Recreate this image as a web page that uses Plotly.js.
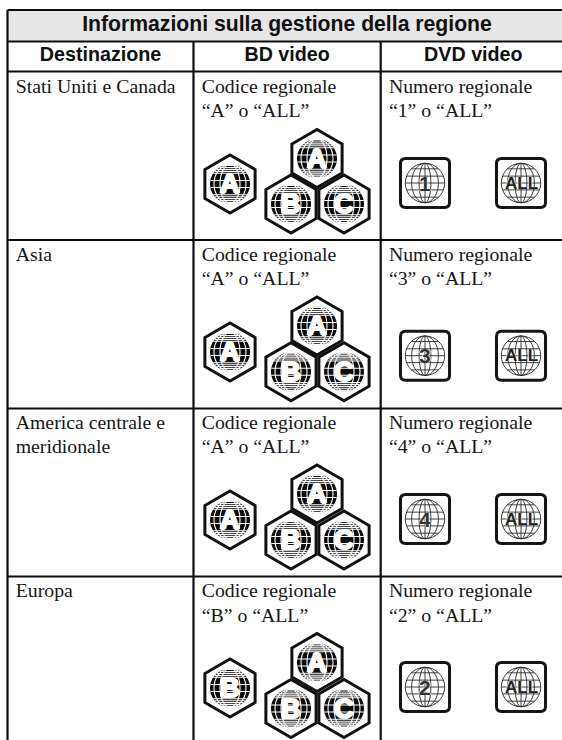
<!DOCTYPE html>
<html><head><meta charset="utf-8">
<script src="https://cdn.plot.ly/plotly-3.0.1.min.js"></script>
<style>html,body{margin:0;padding:0;background:#fff}</style></head>
<body><div id="chart" style="width:562px;height:740px"></div>
<script>
// ---- table content ----
const tableTitle = "Informazioni sulla gestione della regione";
const columnHeaders = ["Destinazione", "BD video", "DVD video"];
const destinations = [["Stati Uniti e Canada"], ["Asia"], ["America centrale e", "meridionale"], ["Europa"]];
const bdLetters = ["A", "A", "A", "B"];
const dvdNumbers = ["1", "3", "4", "2"];
const bdClusterLetters = ["A", "B", "C"];
const dvdAllLabel = "ALL";
const bdCaption = "Codice regionale";
const dvdCaption = "Numero regionale";

// ---- page geometry (kept apart from the content) ----
const W = 562, H = 740;
const colX = [7.5, 193.5, 380.7];
const rightX = 562;
const ruleY = [10, 41.5, 71.5, 240, 408.5, 576.5];
const bottomY = 740;
const rowTextY = [88, 255.7, 424, 592.5];
const lineGap = 24.5;
const textPad = 8.2;
const hexSingleX = 230, hexTopX = 317, hexLeftX = 291, hexRightX = 344;
const hexSingleY = [184, 352, 520, 688];
const hexTopY = [158.5, 326, 494, 662.5];
const hexLowY = [204, 371.7, 540, 708.5];
const dvdX = [425, 521];
const dvdY = [183, 355.7, 519, 687];

const INK = "#161616";
const shapes = [], annotations = [];

function ell(cx, cy, rx, ry) {
  const k = 0.5523;
  return `M${cx - rx},${cy} C${cx - rx},${cy - k * ry} ${cx - k * rx},${cy - ry} ${cx},${cy - ry} ` +
         `C${cx + k * rx},${cy - ry} ${cx + rx},${cy - k * ry} ${cx + rx},${cy} ` +
         `C${cx + rx},${cy + k * ry} ${cx + k * rx},${cy + ry} ${cx},${cy + ry} ` +
         `C${cx - k * rx},${cy + ry} ${cx - rx},${cy + k * ry} ${cx - rx},${cy} Z `;
}
function lat(cx, cy, rx, ry, f) {
  const hw = rx * Math.sqrt(1 - f * f);
  return `M${cx - hw},${cy + f * ry} L${cx + hw},${cy + f * ry} `;
}
function letterNote(x, y, text, size, color, font, shadow) {
  annotations.push({x, y, text, showarrow: false, xanchor: "center", yanchor: "middle",
    borderpad: 0, borderwidth: 0,
    font: {family: font, size, color, weight: 700, shadow: shadow || "none"}});
}
function hexGlobe(cx, cy, letter) {
  const rx = 20, ry = 19.5;
  shapes.push({type: "path", layer: "above", path: ell(cx, cy, rx, ry), fillcolor: "#0c0c0c", line: {width: 0}});
  let p = "";
  [0.5, 0.8].forEach(f => { p += ell(cx, cy, rx * f, ry); });
  [-0.95, -0.85, -0.75, -0.65, -0.55, -0.18, 0.18, 0.55, 0.65, 0.75, 0.85, 0.95].forEach(f => { p += lat(cx, cy, rx, ry, f); });
  shapes.push({type: "path", layer: "above", path: p, fillcolor: "rgba(0,0,0,0)", line: {color: "#fff", width: 1.1}});
  letterNote(cx, cy, letter, 27, "#fff", "Liberation Sans",
    "1.2px 0 0 #fff,-1.2px 0 0 #fff,0 1.2px 0 #fff,0 -1.2px 0 #fff");
}
function dvdIcon(cx, cy, label, size, color) {
  const h = 24.5, r = 5;
  shapes.push({type: "path", layer: "above",
    path: `M${cx - h + r},${cy - h} L${cx + h - r},${cy - h} Q${cx + h},${cy - h} ${cx + h},${cy - h + r} ` +
          `L${cx + h},${cy + h - r} Q${cx + h},${cy + h} ${cx + h - r},${cy + h} ` +
          `L${cx - h + r},${cy + h} Q${cx - h},${cy + h} ${cx - h},${cy + h - r} ` +
          `L${cx - h},${cy - h + r} Q${cx - h},${cy - h} ${cx - h + r},${cy - h} Z`,
    fillcolor: "#fff", line: {color: INK, width: 3}});
  const R = 19.7;
  let p = ell(cx, cy, R, R);
  [0.3, 0.68].forEach(f => { p += ell(cx, cy, R * f, R); });
  [-0.72, -0.35, 0, 0.35, 0.72].forEach(f => { p += lat(cx, cy, R, R, f); });
  p += `M${cx},${cy - R} L${cx},${cy + R} `;
  shapes.push({type: "path", layer: "above", path: p, fillcolor: "rgba(0,0,0,0)", line: {color: "#2a2a2a", width: 0.9}});
  letterNote(cx, cy, label, size, color, "Liberation Sans", "1px 0 0 rgba(255,255,255,.7),-1px 0 0 rgba(255,255,255,.7)");
}

// ---- grid ----
shapes.push({type: "rect", layer: "below", x0: colX[0], x1: rightX, y0: ruleY[0], y1: ruleY[1], fillcolor: "#e6e6e6", line: {width: 0}});
const gx = [], gy = [];
ruleY.forEach(y => { gx.push(colX[0], rightX, null); gy.push(y, y, null); });
gx.push(colX[0], colX[0], null); gy.push(ruleY[0], bottomY, null);
gx.push(colX[1], colX[1], null, colX[2], colX[2], null); gy.push(ruleY[1], bottomY, null, ruleY[1], bottomY, null);

// ---- text ----
const tx = [], ty = [], tt = [];
destinations.forEach((lines, i) => lines.forEach((s, j) => { tx.push(colX[0] + textPad); ty.push(rowTextY[i] + j * lineGap); tt.push(s); }));
bdLetters.forEach((l, i) => {
  tx.push(colX[1] + textPad, colX[1] + textPad); ty.push(rowTextY[i], rowTextY[i] + lineGap);
  tt.push(bdCaption, `“${l}” o “ALL”`);
});
dvdNumbers.forEach((n, i) => {
  tx.push(colX[2] + textPad, colX[2] + textPad); ty.push(rowTextY[i], rowTextY[i] + lineGap);
  tt.push(dvdCaption, `“${n}” o “ALL”`);
});

// ---- hexagon shells ----
const hx = [], hy = [];
bdLetters.forEach((l, i) => {
  hx.push(hexSingleX, hexLeftX, hexRightX, hexTopX);
  hy.push(hexSingleY[i], hexLowY[i], hexLowY[i], hexTopY[i]);
});

// ---- headers ----
const bandCentre = (ruleY[0] + ruleY[1]) / 2, headCentre = (ruleY[1] + ruleY[2]) / 2;
const hdx = [287, (colX[0] + colX[1]) / 2, (colX[1] + colX[2]) / 2, (colX[2] + rightX) / 2 + 2];
const hdy = [bandCentre, headCentre, headCentre, headCentre];
const hdt = [tableTitle].concat(columnHeaders);
const hds = [21.2, 19.7, 19.7, 19.7];

bdLetters.forEach((l, i) => {
  hexGlobe(hexSingleX, hexSingleY[i], l);
  hexGlobe(hexTopX, hexTopY[i], bdClusterLetters[0]);
  hexGlobe(hexLeftX, hexLowY[i], bdClusterLetters[1]);
  hexGlobe(hexRightX, hexLowY[i], bdClusterLetters[2]);
  dvdIcon(dvdX[0], dvdY[i], dvdNumbers[i], 21, "#333");
  dvdIcon(dvdX[1], dvdY[i], dvdAllLabel, 17, "#222");
});

const traces = [
  {type: "scatter", mode: "lines", x: gx, y: gy, connectgaps: false, line: {color: "#0d0d0d", width: 2.2}, hoverinfo: "skip"},
  {type: "scatter", mode: "markers", x: hx, y: hy, marker: {symbol: "hexagon", size: 58, color: "#fff", line: {color: "#111", width: 3}}, hoverinfo: "skip"},
  {type: "scatter", mode: "text", x: tx, y: ty, text: tt, textposition: "middle right",
   textfont: {family: "Liberation Serif", size: 19.8, color: INK}, hoverinfo: "skip"},
  {type: "scatter", mode: "text", x: hdx, y: hdy, text: hdt, textposition: "middle center",
   textfont: {family: "Liberation Sans", size: hds, color: "#111", weight: 700}, hoverinfo: "skip"}
];
const layout = {
  width: W, height: H, showlegend: false, margin: {l: 0, r: 0, t: 0, b: 0},
  paper_bgcolor: "#fff", plot_bgcolor: "#fff",
  xaxis: {range: [0, W], visible: false, fixedrange: true},
  yaxis: {range: [H, 0], visible: false, fixedrange: true},
  shapes, annotations
};
Plotly.newPlot("chart", traces, layout, {displayModeBar: false, staticPlot: true});
</script></body></html>
